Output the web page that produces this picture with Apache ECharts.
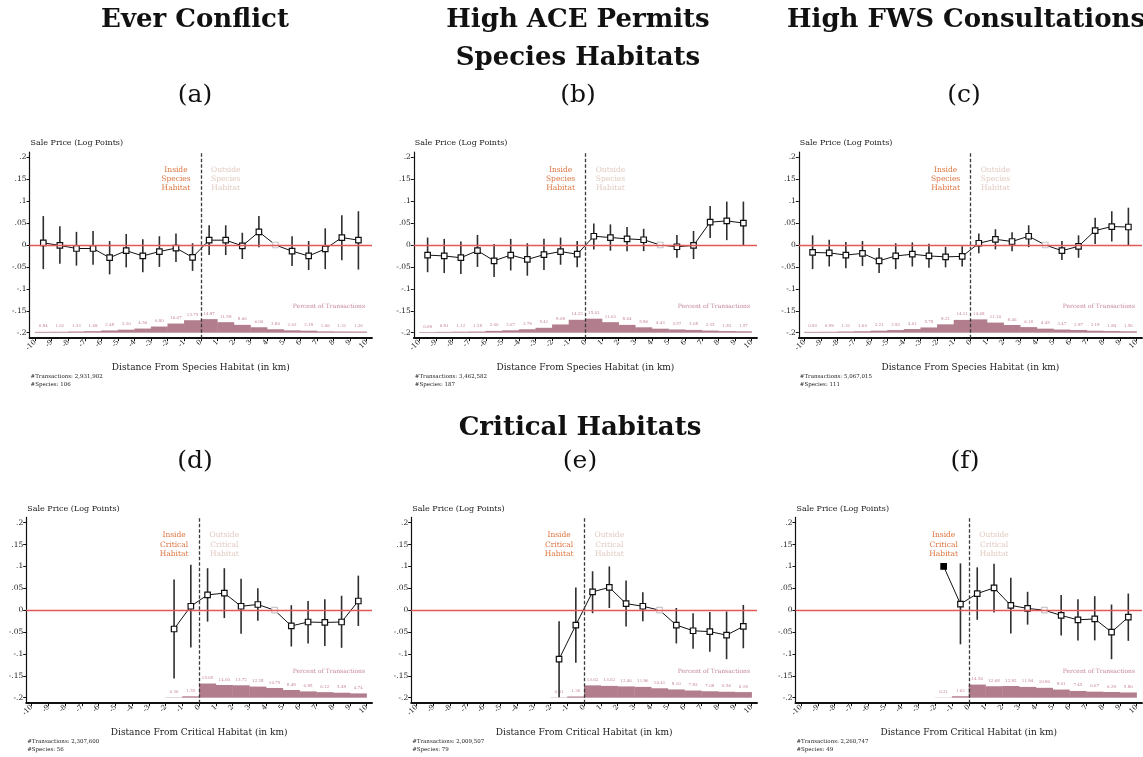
<!DOCTYPE html>
<html>
<head>
<meta charset="utf-8">
<script src="https://cdn.jsdelivr.net/npm/echarts@6/dist/echarts.min.js"></script>
<style>html,body{margin:0;padding:0;background:#fff}#chart{width:1143px;height:757px}</style>
</head>
<body>
<div id="chart"></div>
<script>
// ---- data ----
const binMid = [-9.5,-8.5,-7.5,-6.5,-5.5,-4.5,-3.5,-2.5,-1.5,-0.5,0.5,1.5,2.5,3.5,4.5,5.5,6.5,7.5,8.5,9.5];
const xTicks = [-10,-9,-8,-7,-6,-5,-4,-3,-2,-1,0,1,2,3,4,5,6,7,8,9,10];
const yTicks = [-0.2,-0.15,-0.1,-0.05,0,0.05,0.1,0.15,0.2];
const REF_BIN = 4.5; // omitted category, drawn grey
const _ = null;

// (a) Ever Conflict
const aPoint = [0.005,-0.001,-0.008,-0.008,-0.029,-0.013,-0.025,-0.015,-0.007,-0.028,0.011,0.011,-0.002,0.030,0,-0.014,-0.025,-0.009,0.017,0.011];
const aLow   = [-0.055,-0.043,-0.047,-0.045,-0.067,-0.051,-0.062,-0.050,-0.039,-0.059,-0.023,-0.023,-0.032,-0.005,_,-0.048,-0.057,-0.055,-0.035,-0.056];
const aHigh  = [0.066,0.043,0.030,0.032,0.009,0.025,0.013,0.020,0.026,0.004,0.045,0.045,0.028,0.066,_,0.020,0.009,0.038,0.068,0.077];
const aShare = [0.94,1.01,1.33,1.69,2.48,3.30,4.56,6.80,10.07,13.75,14.97,11.59,8.66,6.00,3.80,2.63,2.19,1.46,1.31,1.26];

// (b) High ACE Permits
const bPoint = [-0.023,-0.025,-0.029,-0.013,-0.036,-0.023,-0.033,-0.022,-0.015,-0.021,0.020,0.017,0.014,0.012,0,-0.004,-0.001,0.052,0.055,0.050];
const bLow   = [-0.062,-0.064,-0.066,-0.050,-0.073,-0.058,-0.070,-0.057,-0.045,-0.051,-0.010,-0.013,-0.014,-0.014,_,-0.029,-0.032,0.016,0.011,0.000];
const bHigh  = [0.017,0.014,0.008,0.023,0.002,0.014,0.004,0.014,0.017,0.009,0.049,0.047,0.041,0.037,_,0.023,0.032,0.089,0.099,0.099];
const bShare = [0.69,0.91,1.12,1.28,2.00,2.67,3.79,5.41,9.09,14.22,15.43,11.62,8.64,5.96,4.43,3.57,3.08,2.35,1.83,1.57];

// (c) High FWS Consultations
const cPoint = [-0.017,-0.018,-0.023,-0.019,-0.036,-0.025,-0.021,-0.025,-0.027,-0.026,0.004,0.013,0.008,0.020,0,-0.013,-0.003,0.033,0.042,0.041];
const cLow   = [-0.055,-0.049,-0.053,-0.048,-0.064,-0.055,-0.049,-0.052,-0.051,-0.049,-0.019,-0.010,-0.014,-0.005,_,-0.034,-0.029,0.002,0.008,-0.002];
const cHigh  = [0.022,0.012,0.007,0.009,-0.007,0.004,0.006,0.003,-0.004,-0.003,0.026,0.036,0.029,0.045,_,0.009,0.022,0.062,0.077,0.085];
const cShare = [0.93,0.99,1.31,1.60,2.21,2.92,4.01,5.78,9.21,14.11,14.68,11.14,8.46,6.18,4.45,3.47,2.97,2.19,1.84,1.56];

// (d) Critical, ever conflict
const dPoint = [_,_,_,_,_,_,_,_,-0.043,0.009,0.035,0.039,0.009,0.013,0,-0.036,-0.027,-0.028,-0.027,0.021];
const dLow   = [_,_,_,_,_,_,_,_,-0.156,-0.085,-0.026,-0.018,-0.054,-0.024,_,-0.083,-0.076,-0.082,-0.086,-0.036];
const dHigh  = [_,_,_,_,_,_,_,_,0.070,0.104,0.096,0.096,0.072,0.050,_,0.0115,0.021,0.025,0.033,0.079];
const dShare = [_,_,_,_,_,_,_,_,0.36,1.55,15.65,14.00,13.72,12.28,10.75,8.49,6.95,6.12,5.49,4.74];

// (e) Critical, ACE
const ePoint = [_,_,_,_,_,_,_,_,-0.112,-0.034,0.042,0.052,0.015,0.009,0,-0.034,-0.047,-0.049,-0.057,-0.037];
const eLow   = [_,_,_,_,_,_,_,_,-0.199,-0.120,-0.007,0.005,-0.037,-0.025,_,-0.076,-0.088,-0.095,-0.112,-0.087];
const eHigh  = [_,_,_,_,_,_,_,_,-0.025,0.052,0.089,0.100,0.068,0.041,_,0.005,-0.007,-0.004,-0.003,0.012];
const eShare = [_,_,_,_,_,_,_,_,0.31,1.36,13.62,13.02,12.46,11.96,10.41,9.10,7.93,7.09,6.56,6.19];

// (f) Critical, FWS
const fPoint = [_,_,_,_,_,_,_,_,0.100,0.014,0.038,0.051,0.011,0.004,0,-0.012,-0.022,-0.020,-0.050,-0.016];
const fLow   = [_,_,_,_,_,_,_,_,_,-0.078,-0.022,-0.005,-0.053,-0.033,_,-0.058,-0.069,-0.069,-0.112,-0.070];
const fHigh  = [_,_,_,_,_,_,_,_,_,0.107,0.098,0.106,0.074,0.042,_,0.035,0.025,0.032,0.013,0.038];
const fShare = [_,_,_,_,_,_,_,_,0.21,1.62,14.50,12.68,12.92,11.94,10.90,9.01,7.45,6.67,6.29,5.80];

// ---- layout / style ----
const FONT = 'DejaVu Serif';
const BAR = '#b27e8d', BARTXT = '#c4869b', INSIDE = '#dc743f', OUTSIDE = '#e2cbc2', ZERO = '#e05858';
const XMIN = -10.33, XMAX = 10.32, YMIN = -0.2125, YMAX = 0.212;
const SHARE_K = 0.00207; // log points per percent of transactions in the histogram
const BMIN = (YMIN + 0.2) / SHARE_K, BMAX = (YMAX + 0.2) / SHARE_K;

const panels = [
  { pt: aPoint, lo: aLow, hi: aHigh, share: aShare, zone: 'Species', n: '2,931,902', sp: '106', px: [35, 366.7], py: [157.3, 332.7] },
  { pt: bPoint, lo: bLow, hi: bHigh, share: bShare, zone: 'Species', n: '3,462,582', sp: '187', px: [419.3, 751.7], py: [157.3, 332.7] },
  { pt: cPoint, lo: cLow, hi: cHigh, share: cShare, zone: 'Species', n: '5,067,015', sp: '111', px: [804.3, 1136.7], py: [157.3, 332.7] },
  { pt: dPoint, lo: dLow, hi: dHigh, share: dShare, zone: 'Critical', n: '2,307,600', sp: '56', px: [31.7, 366.7], py: [522.7, 697.7] },
  { pt: ePoint, lo: eLow, hi: eHigh, share: eShare, zone: 'Critical', n: '2,009,507', sp: '79', px: [416.7, 751.7], py: [522.7, 697.7] },
  { pt: fPoint, lo: fLow, hi: fHigh, share: fShare, zone: 'Critical', n: '2,260,747', sp: '49', px: [801, 1136.7], py: [522.7, 697.7] }
];

const grids = panels.map(p => {
  const kx = (p.px[1] - p.px[0]) / 20, ky = (p.py[1] - p.py[0]) / 0.4;
  return {
    left: p.px[0] - (-10 - XMIN) * kx, width: (XMAX - XMIN) * kx,
    top: p.py[0] - (YMAX - 0.2) * ky, height: (YMAX - YMIN) * ky
  };
});

const yFmt = v => {
  if (Math.abs(v) < 1e-9) return '0';
  return (v < 0 ? '-' : '') + String(Math.abs(v)).replace(/^0/, '');
};

const xAxes = panels.map((p, i) => ({
  type: 'value', gridIndex: i, min: XMIN, max: XMAX,
  axisLine: { onZero: false, lineStyle: { color: '#111', width: 1.8 } },
  axisTick: { customValues: xTicks, length: 3, lineStyle: { color: '#111' } },
  axisLabel: { customValues: xTicks, rotate: 45, fontSize: 7, margin: 3, color: '#222', fontFamily: FONT },
  splitLine: { show: false },
  name: 'Distance From ' + p.zone + ' Habitat (in km)', nameLocation: 'middle', nameGap: 25,
  nameTextStyle: { fontSize: 9, color: '#222', fontFamily: FONT }
}));

const yAxes = panels.map((p, i) => ({
  type: 'value', gridIndex: i, min: YMIN, max: YMAX,
  axisLine: { show: true, onZero: false, lineStyle: { color: '#111', width: 1.2 } },
  axisTick: { show: true, customValues: yTicks, length: 3, lineStyle: { color: '#111' } },
  axisLabel: { customValues: yTicks, formatter: yFmt, fontSize: 7.5, margin: 3, color: '#222', fontFamily: FONT },
  splitLine: { show: false }
})).concat(panels.map((p, i) => ({
  type: 'value', gridIndex: i, min: BMIN, max: BMAX, show: false
})));

const series = [];
panels.forEach((p, i) => {
  // histogram of transactions
  series.push({
    type: 'custom', xAxisIndex: i, yAxisIndex: 6 + i, z: 1, silent: true,
    data: p.share.map((s, k) => s == null ? null : [binMid[k] - 0.5, binMid[k] + 0.5, s]).filter(d => d),
    renderItem(params, api) {
      const a = api.coord([api.value(0), 0]);
      const b = api.coord([api.value(1), api.value(2)]);
      return {
        type: 'group', children: [
          { type: 'rect', shape: { x: a[0] - 0.2, y: b[1], width: b[0] - a[0] + 0.4, height: a[1] - b[1] }, style: { fill: BAR } },
          { type: 'text', style: { text: api.value(2).toFixed(2), x: (a[0] + b[0]) / 2, y: b[1] - 3.5,
            align: 'center', verticalAlign: 'bottom', textAlign: 'center', textVerticalAlign: 'bottom',
            fontSize: 4, fontFamily: FONT, fill: BARTXT } }
        ]
      };
    }
  });
  // confidence intervals + reference lines
  series.push({
    type: 'custom', xAxisIndex: i, yAxisIndex: i, z: 2, silent: true,
    data: binMid.map((x, k) => p.lo[k] == null ? null : [x, p.lo[k], p.hi[k]]).filter(d => d),
    renderItem(params, api) {
      const a = api.coord([api.value(0), api.value(1)]);
      const b = api.coord([api.value(0), api.value(2)]);
      return { type: 'line', shape: { x1: a[0], y1: a[1], x2: b[0], y2: b[1] }, style: { stroke: '#2e2e2e', lineWidth: 1.6 } };
    },
    markLine: {
      silent: true, symbol: 'none', label: { show: false }, animation: false,
      data: [
        { yAxis: 0, lineStyle: { color: ZERO, width: 1.3, type: 'solid' } },
        { xAxis: 0, lineStyle: { color: '#3a3a3a', width: 1.3, type: [3.5, 2] } }
      ]
    }
  });
  // point estimates
  series.push({
    type: 'line', xAxisIndex: i, yAxisIndex: i, z: 3, silent: true,
    symbol: 'rect', symbolSize: 5.5,
    lineStyle: { color: '#111', width: 1 },
    itemStyle: { color: '#fff', borderColor: '#111', borderWidth: 1.2 },
    data: binMid.map((x, k) => {
      if (p.pt[k] == null) return null;
      const it = { value: [x, p.pt[k]] };
      if (x === REF_BIN) it.itemStyle = { color: '#fff', borderColor: '#c8c8c8' };
      else if (p.lo[k] == null) it.itemStyle = { color: '#000', borderColor: '#000' };
      return it;
    }).filter(d => d)
  });
});

const chart = echarts.init(document.getElementById('chart'), null, { renderer: 'canvas' });
chart.setOption({
  animation: false,
  textStyle: { fontFamily: FONT },
  grid: grids,
  xAxis: xAxes,
  yAxis: yAxes,
  series: series
});

// ---- text ----
const txt = (text, x, y, size, opt) => Object.assign({
  type: 'text', silent: true,
  style: Object.assign({ text, x, y, fontSize: size, fontFamily: FONT, fill: '#111',
    align: 'center', verticalAlign: 'middle', textAlign: 'center', textVerticalAlign: 'middle' }, opt || {})
});
const g = [
  txt('Ever Conflict', 195, 20, 26, { fontWeight: 'bold' }),
  txt('High ACE Permits', 578, 20, 26, { fontWeight: 'bold' }),
  txt('Species Habitats', 578, 58, 26, { fontWeight: 'bold' }),
  txt('High FWS Consultations', 966, 20, 26, { fontWeight: 'bold' }),
  txt('Critical Habitats', 580, 428, 26, { fontWeight: 'bold' }),
  txt('(a)', 195, 95, 25), txt('(b)', 578, 95, 25), txt('(c)', 964, 95, 25),
  txt('(d)', 195, 461, 25), txt('(e)', 580, 461, 25), txt('(f)', 965, 461, 25)
];
const left = { align: 'left', textAlign: 'left' };
panels.forEach((p, i) => {
  const gr = grids[i];
  const at = (x, y) => chart.convertToPixel({ xAxisIndex: i, yAxisIndex: i }, [x, y]);
  g.push(txt('Sale Price (Log Points)', gr.left + 1, gr.top - 9, 8, Object.assign({ fill: '#222' }, left)));
  const pin = at(-1.5, 0.15), pout = at(1.5, 0.15);
  g.push(txt('Inside\n' + p.zone + '\nHabitat', pin[0], pin[1], 7.5, { fill: INSIDE, lineHeight: 9.3 }));
  g.push(txt('Outside\n' + p.zone + '\nHabitat', pout[0], pout[1], 7.5, { fill: OUTSIDE, lineHeight: 9.3 }));
  const pp = at(9.9, -0.141);
  g.push(txt('Percent of Transactions', pp[0], pp[1], 6, { fill: BARTXT, align: 'right', textAlign: 'right' }));
  g.push(txt('#Transactions: ' + p.n, gr.left + 1, gr.top + gr.height + 38, 5.5, Object.assign({ fill: '#222' }, left)));
  g.push(txt('#Species: ' + p.sp, gr.left + 1, gr.top + gr.height + 46.5, 5.5, Object.assign({ fill: '#222' }, left)));
});
chart.setOption({ graphic: { elements: g } });
</script>
</body>
</html>
